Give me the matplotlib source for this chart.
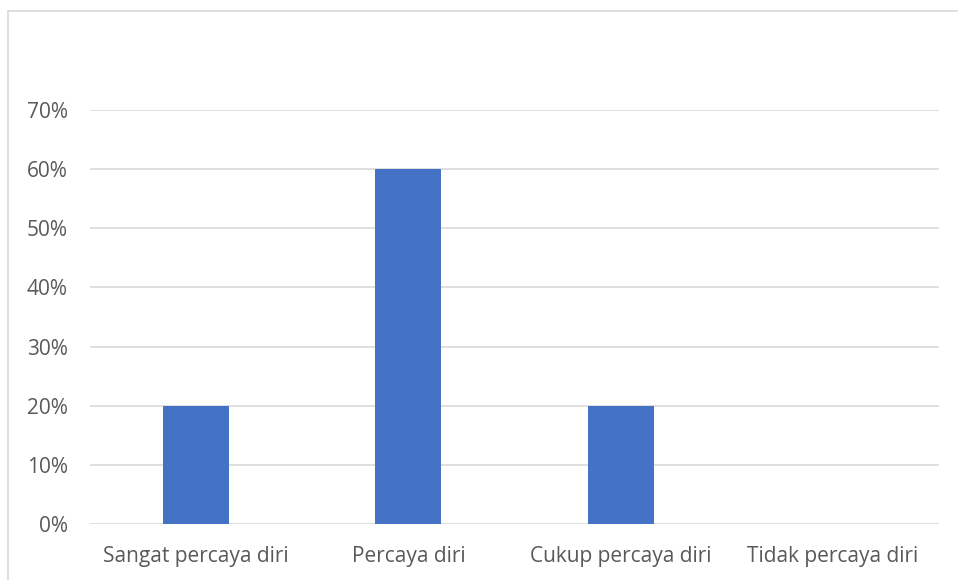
import matplotlib.pyplot as plt
from matplotlib.lines import Line2D
from matplotlib.ticker import FuncFormatter

categories = ["Sangat percaya diri", "Percaya diri", "Cukup percaya diri", "Tidak percaya diri"]
values = [0.20, 0.60, 0.20, 0.0]
yticks = [0.0, 0.1, 0.2, 0.3, 0.4, 0.5, 0.6, 0.7]

W, H = 958, 580
fig = plt.figure(figsize=(W / 100, H / 100), dpi=100)
ax = fig.add_axes([90 / W, 1 - 524 / H, (939 - 90) / W, (524 - 110) / H])

text_color = "#595959"
grid_color = "#d9d9d9"

ax.bar(range(len(categories)), values, width=0.31, color="#4472c4", zorder=3)

ax.set_xlim(-0.5, len(categories) - 0.5)
ax.set_ylim(0, 0.70)
ax.set_yticks(yticks)
ax.yaxis.set_major_formatter(FuncFormatter(lambda v, p: f"{v * 100:.0f}%"))
ax.set_xticks(range(len(categories)))
ax.set_xticklabels(categories)

ax.grid(axis="y", color=grid_color, linewidth=1.2, zorder=0)
for s in ax.spines.values():
    s.set_visible(False)
ax.tick_params(length=0, labelsize=15, labelcolor=text_color)
ax.tick_params(axis="y", pad=16)
ax.tick_params(axis="x", pad=16)
for lbl in ax.get_xticklabels() + ax.get_yticklabels():
    lbl.set_fontfamily(["Open Sans", "DejaVu Sans"])

# outer chart frame (left and top edges)
fig.add_artist(Line2D([8 / W, 8 / W], [0, 1 - 11 / H], color=grid_color, linewidth=1.2))
fig.add_artist(Line2D([8 / W, 1], [1 - 11 / H, 1 - 11 / H], color=grid_color, linewidth=1.2))

fig.savefig("out.png", dpi=100, facecolor="white")
